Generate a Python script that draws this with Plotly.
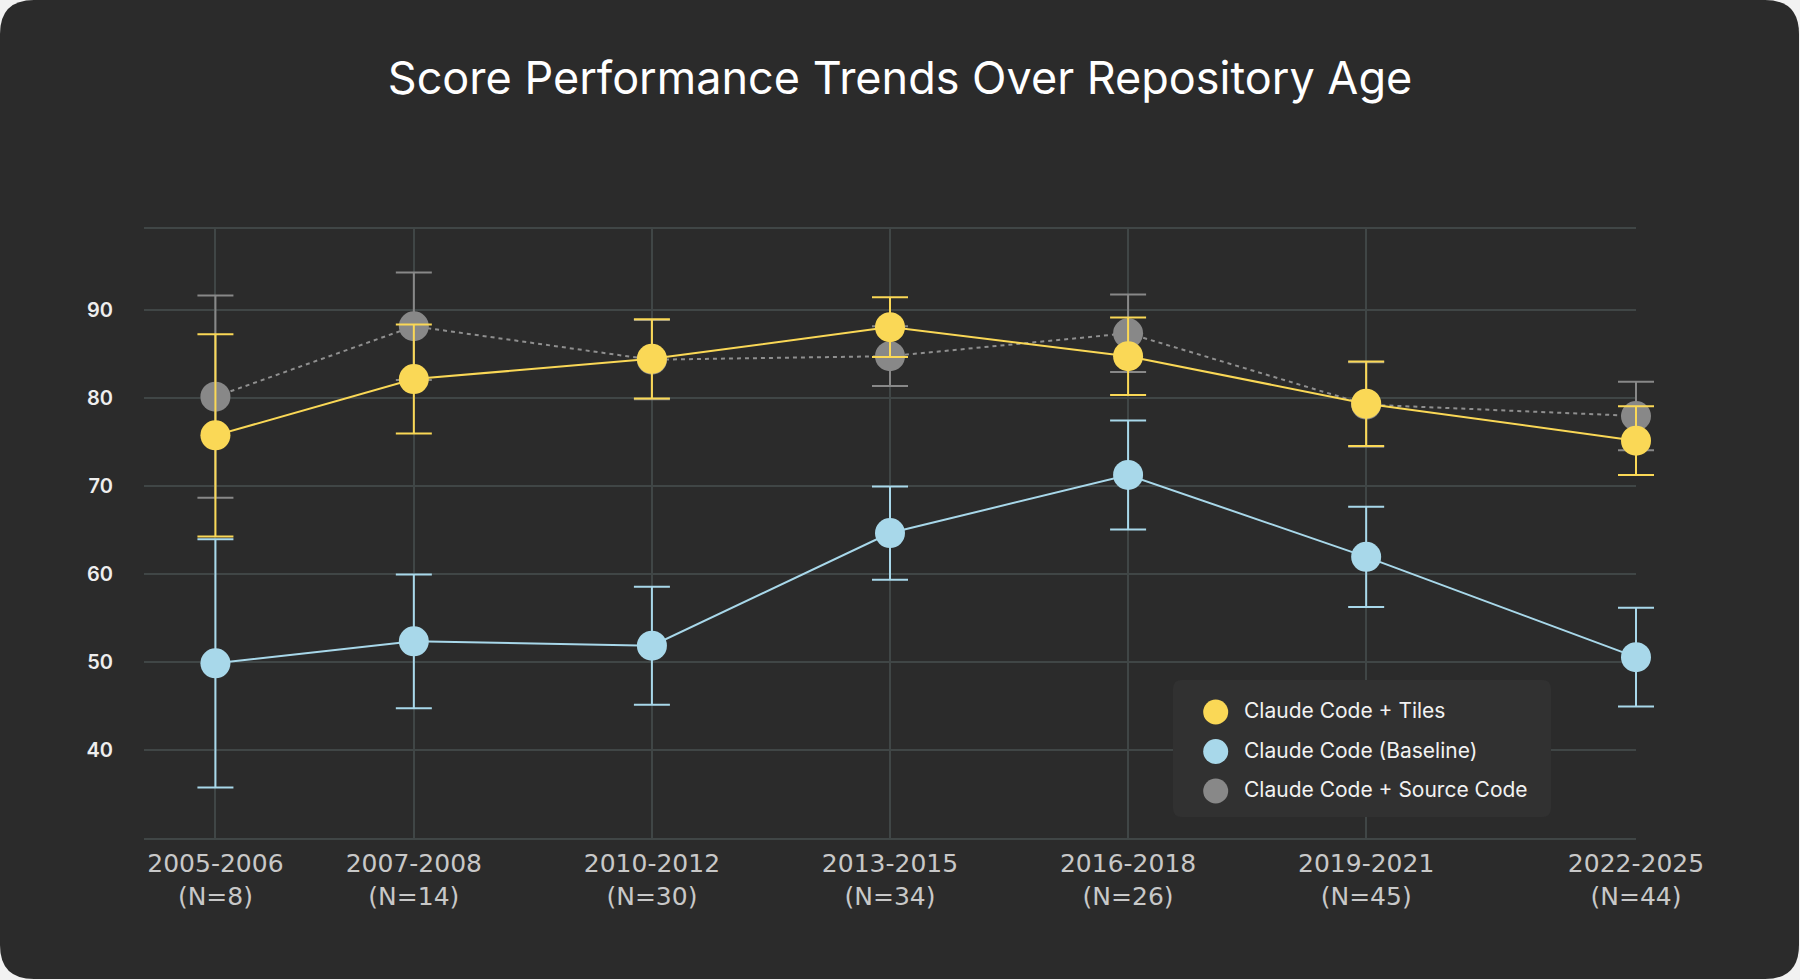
import plotly.graph_objects as go

# --- DATA ---
periods = ["2005-2006", "2007-2008", "2010-2012", "2013-2015", "2016-2018", "2019-2021", "2022-2025"]
n_repos = [8, 14, 30, 34, 26, 45, 44]
# mean repository year of each bucket, used as x position
period_year = [2005.5, 2008.0, 2011.0, 2014.0, 2017.0, 2020.0, 2023.4]

tiles_score = [75.8, 82.2, 84.5, 88.1, 84.8, 79.4, 75.2]
tiles_err = [11.5, 6.2, 4.5, 3.4, 4.4, 4.8, 3.9]

baseline_score = [49.9, 52.4, 51.9, 64.7, 71.3, 62.0, 50.6]
baseline_err = [14.1, 7.6, 6.7, 5.3, 6.2, 5.7, 5.6]

source_score = [80.2, 88.2, 84.4, 84.8, 87.4, 79.3, 78.0]
source_err = [11.5, 6.1, 4.5, 3.4, 4.4, 4.8, 3.9]

y_ticks = [40, 50, 60, 70, 80, 90]

series_names = ["Claude Code + Tiles", "Claude Code (Baseline)", "Claude Code + Source Code"]

# --- STYLE ---
YELLOW = "#fad856"
BLUE = "#a8d8ea"
GRAY = "#888888"
BG = "#2b2b2b"
GRID = "#404646"

W, H = 1800, 980
# plot area is 144..1636 px; 20px extra on the right so end caps are not clipped
ML, MR, MT, MB = 144, 144, 229, 142
PW, PH = W - ML - MR, H - MT - MB
GRID_W = 1492  # width of the gridded area

X_RANGE = [2004.6, 2023.4]
Y_RANGE = [30.05, 99.25]
x_wide = X_RANGE[0] + (X_RANGE[1] - X_RANGE[0]) * PW / GRID_W


def px(x):
    return (x - ML) / PW


def py(y):
    return 1 - (y - MT) / PH


def rounded_path(x0, y0, x1, y1, r, fx, fy):
    return (f"M {fx(x0 + r)},{fy(y0)} L {fx(x1 - r)},{fy(y0)} "
            f"Q {fx(x1)},{fy(y0)} {fx(x1)},{fy(y0 + r)} L {fx(x1)},{fy(y1 - r)} "
            f"Q {fx(x1)},{fy(y1)} {fx(x1 - r)},{fy(y1)} L {fx(x0 + r)},{fy(y1)} "
            f"Q {fx(x0)},{fy(y1)} {fx(x0)},{fy(y1 - r)} L {fx(x0)},{fy(y0 + r)} "
            f"Q {fx(x0)},{fy(y0)} {fx(x0 + r)},{fy(y0)} Z")


tick_text = [f"{p}<br>(N={n})" for p, n in zip(periods, n_repos)]

fig = go.Figure()

# empty trace so the gridded subplot exists
fig.add_trace(go.Scatter(x=period_year, y=tiles_score, mode="none",
                         hoverinfo="skip", showlegend=False))

# data lives on x3/y3 (same scale, a bit wider clip area); back to front: source, baseline, tiles
fig.add_trace(go.Scatter(
    x=period_year, y=source_score, mode="lines+markers", name=series_names[2],
    line=dict(color="#8f8f8f", width=2, dash="4px,4px"),
    marker=dict(color=GRAY, size=30),
    error_y=dict(type="data", array=source_err, color=GRAY, thickness=2, width=18),
    cliponaxis=False, showlegend=False, xaxis="x3", yaxis="y3"))
fig.add_trace(go.Scatter(
    x=period_year, y=baseline_score, mode="lines+markers", name=series_names[1],
    line=dict(color=BLUE, width=2),
    marker=dict(color=BLUE, size=30),
    error_y=dict(type="data", array=baseline_err, color=BLUE, thickness=2, width=18),
    cliponaxis=False, showlegend=False, xaxis="x3", yaxis="y3"))
fig.add_trace(go.Scatter(
    x=period_year, y=tiles_score, mode="lines+markers", name=series_names[0],
    line=dict(color=YELLOW, width=2),
    marker=dict(color=YELLOW, size=30),
    error_y=dict(type="data", array=tiles_err, color=YELLOW, thickness=2, width=18),
    cliponaxis=False, showlegend=False, xaxis="x3", yaxis="y3"))

# custom legend (big round swatches) on its own little axis pair, units = pixels
LX0, LX1, LY0, LY1 = 1173, 1551, 680, 817
LW, LH = LX1 - LX0, LY1 - LY0
row_y = [105 - i * 39.5 for i in range(len(series_names))]
fig.add_trace(go.Scatter(
    x=[42.7] * len(series_names), y=row_y, mode="markers",
    marker=dict(color=[YELLOW, BLUE, GRAY], size=25),
    xaxis="x2", yaxis="y2", showlegend=False, hoverinfo="skip"))
fig.add_trace(go.Scatter(
    x=[71] * len(series_names), y=[v - 0.8 for v in row_y], mode="text", text=series_names,
    textposition="middle right",
    textfont=dict(family="Inter", size=21, color="#f2f2f2"),
    xaxis="x2", yaxis="y2", showlegend=False, hoverinfo="skip"))

shapes = [
    dict(type="path", xref="paper", yref="paper", layer="below",
         path=rounded_path(0, 0, W - 1, H - 1, 34, px, py),
         fillcolor=BG, line=dict(width=0)),
    dict(type="path", xref="x2", yref="y2", layer="below",
         path=rounded_path(0, 0, LW, LH, 9, lambda v: v, lambda v: LH - v),
         fillcolor="#313131", line=dict(width=0)),
]

fig.update_layout(
    width=W, height=H,
    margin=dict(l=ML, r=MR, t=MT, b=MB),
    paper_bgcolor="#f2f2f2",
    plot_bgcolor="rgba(0,0,0,0)",
    title=dict(text="Score Performance Trends Over Repository Age",
               x=0.5, xref="container", xanchor="center",
               y=1 - 78 / H, yref="container", yanchor="middle",
               font=dict(family="Inter", size=45, color="#ffffff")),
    xaxis=dict(domain=[0, GRID_W / PW], range=X_RANGE,
               tickvals=period_year, ticktext=tick_text,
               showgrid=True, gridcolor=GRID, gridwidth=2, zeroline=False,
               showline=True, mirror=True, linecolor=GRID, linewidth=2,
               ticks="", ticklabelstandoff=2,
               tickfont=dict(family="DejaVu Sans", size=25, color="#c8c8c8")),
    yaxis=dict(range=Y_RANGE, tickvals=y_ticks,
               showgrid=True, gridcolor=GRID, gridwidth=2, zeroline=False,
               showline=False, ticks="", ticklabelstandoff=30,
               tickfont=dict(family="Inter", size=20, color="#eeeeee", weight=600)),
    xaxis2=dict(domain=[px(LX0), px(LX1)], range=[0, LW], visible=False, fixedrange=True),
    yaxis2=dict(domain=[py(LY1), py(LY0)], range=[0, LH], visible=False, fixedrange=True),
    xaxis3=dict(domain=[0, 1], range=[X_RANGE[0], x_wide], visible=False, fixedrange=True),
    yaxis3=dict(domain=[0, 1], range=Y_RANGE, visible=False, fixedrange=True),
    shapes=shapes,
    showlegend=False,
)

# the page body has a default 8px margin; drop it so the card sits at the window corner
fig.write_html("out.html", config={"displayModeBar": False},
               post_script="document.body.style.margin='0';")
